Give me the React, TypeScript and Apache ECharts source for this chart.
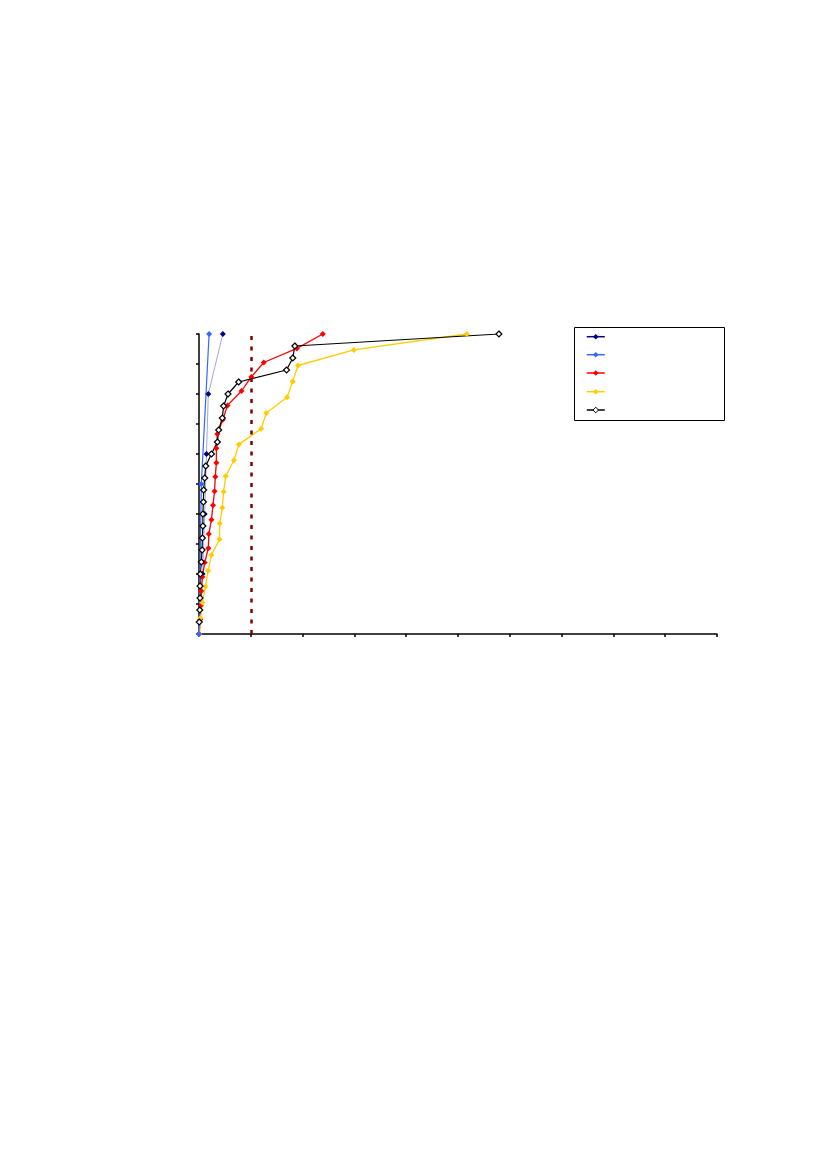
import * as echarts from 'echarts';
import { useEffect, useRef } from 'react';

const seriesNames = ['Series 1', 'Series 2', 'Series 3', 'Series 4', 'Series 5'];

// navy
const navyX = [0, 0.7, 1.1, 1.45, 1.8, 4.6];
const navyY = [0, 20, 40, 60, 80, 100];
// blue
const blueX = [0, 0.45, 1.95];
const blueY = [0, 50, 100];
// red
const redX = [0.05, 0.25, 0.35, 0.45, 0.65, 1.1, 1.8, 1.9, 2.4, 2.7, 3.0, 3.15, 3.35, 3.35, 3.55, 4.6, 5.5, 8.2, 10.1, 12.5, 18.9, 23.9];
const redY = [0, 4.8, 9.5, 14.3, 19, 23.8, 28.6, 33.3, 38.1, 42.9, 47.6, 52.4, 57.1, 61.9, 66.7, 71.4, 76.2, 81, 85.7, 90.5, 95.2, 100];
// yellow
const yellowX = [0.05, 0.25, 0.65, 1.25, 1.75, 2.4, 3.95, 4.0, 4.5, 4.75, 5.15, 6.75, 7.7, 12.0, 13.0, 17.0, 18.1, 19.1, 29.9, 51.7];
const yellowY = [0, 5.3, 10.5, 15.8, 21.1, 26.3, 31.6, 36.8, 42.1, 47.4, 52.6, 57.9, 63.2, 68.4, 73.7, 78.9, 84.2, 89.5, 94.7, 100];
// black (hollow markers)
const blackX = [0.05, 0.15, 0.2, 0.2, 0.25, 0.45, 0.6, 0.65, 0.75, 0.75, 0.85, 0.9, 1.1, 1.3, 2.4, 3.55, 3.8, 4.5, 4.75, 5.6, 7.65, 16.9, 18.1, 18.5, 57.9];
const blackY = [4, 8, 12, 16, 20, 24, 28, 32, 36, 40, 44, 48, 52, 56, 60, 64, 68, 72, 76, 80, 84, 88, 92, 96, 100];

const thresholdX = 10;

const pairs = (xs: number[], ys: number[]) => xs.map((x, i) => [x, ys[i]]);

export default function App() {
    const chartRef = useRef<HTMLDivElement>(null);

    useEffect(() => {
        const chart = echarts.init(chartRef.current, null, { renderer: 'svg' });

        const legendTops = [333.2, 351.2, 369.5, 388.2, 406.5];
        const legendColors = [
            { line: '#000080', fill: '#000080', border: '#000080' },
            { line: '#3366ff', fill: '#3366ff', border: '#3366ff' },
            { line: '#ff0000', fill: '#ff0000', border: '#ff0000' },
            { line: '#ffcc00', fill: '#ffcc00', border: '#ffcc00' },
            { line: '#000000', fill: '#ffffff', border: '#000000' },
        ];

        const option = {
            animation: false,
            backgroundColor: '#ffffff',
            grid: { left: 199, top: 334, width: 518, height: 300 },
            graphic: [
                {
                    type: 'rect',
                    shape: { x: 574.5, y: 327.5, width: 150, height: 93 },
                    style: { fill: 'none', stroke: '#000', lineWidth: 1 },
                    silent: true,
                },
            ],
            legend: seriesNames.map((name, i) => ({
                left: 586,
                top: legendTops[i],
                padding: 0,
                itemWidth: 18,
                itemHeight: 7,
                selectedMode: false,
                formatter: () => '',
                data: [
                    {
                        name,
                        itemStyle: { color: legendColors[i].fill, borderColor: legendColors[i].border, borderWidth: i === 4 ? 1 : 0 },
                        lineStyle: { color: legendColors[i].line, width: 1.5, opacity: 1 },
                    },
                ],
            })),
            xAxis: {
                type: 'value',
                min: 0,
                max: 100,
                interval: 10,
                axisLine: { lineStyle: { color: '#000', width: 1.5 } },
                axisTick: { show: true, inside: false, length: 3, lineStyle: { color: '#000', width: 1.5 } },
                axisLabel: { show: false },
                splitLine: { show: false },
            },
            yAxis: {
                type: 'value',
                min: 0,
                max: 100,
                interval: 10,
                axisLine: { show: true, lineStyle: { color: '#000', width: 1.5 } },
                axisTick: { show: true, inside: false, length: 3, lineStyle: { color: '#000', width: 1.5 } },
                axisLabel: { show: false },
                splitLine: { show: false },
            },
            series: [
                {
                    name: seriesNames[0],
                    type: 'line',
                    data: pairs(navyX, navyY),
                    symbol: 'diamond',
                    symbolSize: 6,
                    itemStyle: { color: '#000080' },
                    lineStyle: { color: '#a3a6d9', width: 1 },
                    markLine: {
                        silent: true,
                        symbol: 'none',
                        label: { show: false },
                        lineStyle: { color: '#800000', width: 2.5, type: [4, 6.5] },
                        data: [{ xAxis: thresholdX }],
                    },
                },
                {
                    name: seriesNames[2],
                    type: 'line',
                    data: pairs(redX, redY),
                    symbol: 'diamond',
                    symbolSize: 6,
                    itemStyle: { color: '#ff0000' },
                    lineStyle: { color: '#ff0000', width: 1.3 },
                },
                {
                    name: seriesNames[3],
                    type: 'line',
                    data: pairs(yellowX, yellowY),
                    symbol: 'diamond',
                    symbolSize: 6,
                    itemStyle: { color: '#ffcc00' },
                    lineStyle: { color: '#ffcc00', width: 1.3 },
                },
                {
                    name: seriesNames[4],
                    type: 'line',
                    data: pairs(blackX, blackY),
                    symbol: 'diamond',
                    symbolSize: 6,
                    showAllSymbol: true,
                    itemStyle: { color: '#ffffff', borderColor: '#000000', borderWidth: 1.2 },
                    lineStyle: { color: '#000000', width: 1.2 },
                },
                {
                    name: seriesNames[1],
                    type: 'line',
                    data: pairs(blueX, blueY),
                    symbol: 'diamond',
                    symbolSize: 6,
                    itemStyle: { color: '#3366ff' },
                    lineStyle: { color: '#3366ff', width: 1.2 },
                },
            ],
        };

        chart.setOption(option);

        return () => {
            chart.dispose();
        };
    }, []);

    return <div
        ref={chartRef}
        style={{
            position: 'absolute',
            left: 0,
            top: 0,
            width: '827px',
            height: '1169px',
            userSelect: 'none',
        }}
    />
}
